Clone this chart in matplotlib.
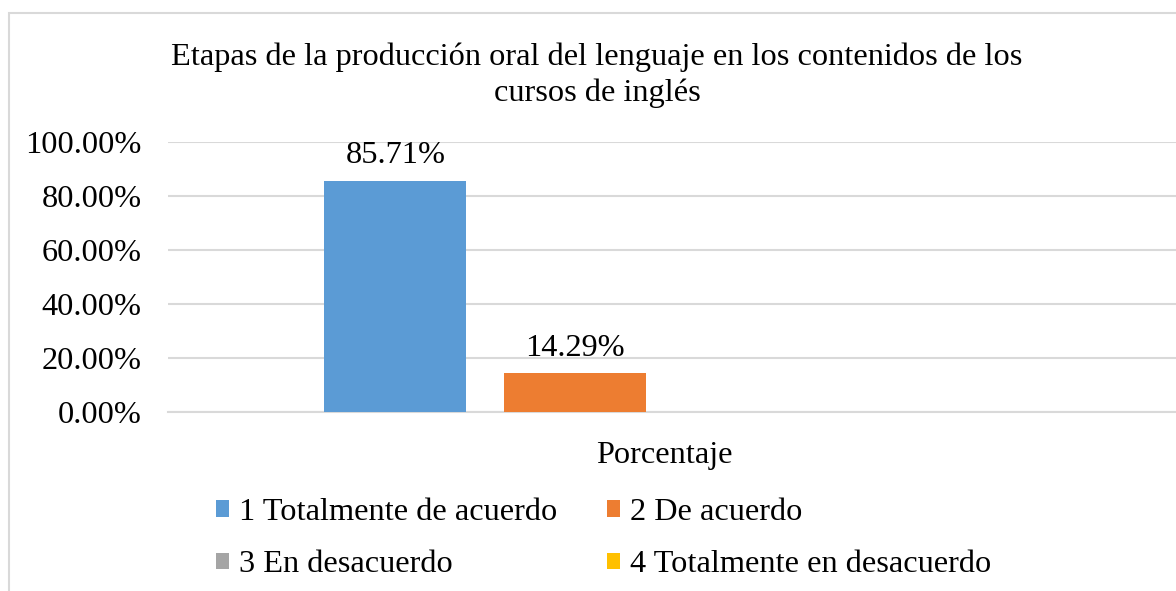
import matplotlib
matplotlib.use("Agg")
import matplotlib.pyplot as plt
from matplotlib.patches import Rectangle
from matplotlib.ticker import FuncFormatter

categories = ["Porcentaje"]
series_names = ["1 Totalmente de acuerdo", "2 De acuerdo",
                "3 En desacuerdo", "4 Totalmente en desacuerdo"]
series_values = [0.8571, 0.1429, 0.0, 0.0]
series_colors = ["#5B9BD5", "#ED7D31", "#A5A5A5", "#FFC000"]
title = "Etapas de la producción oral del lenguaje en los contenidos de los\ncursos de inglés"
yticks = [0.0, 0.2, 0.4, 0.6, 0.8, 1.0]

plt.rcParams["font.family"] = ["Liberation Serif", "DejaVu Serif"]
FS = 23.3
W, H = 1176, 591
fig = plt.figure(figsize=(W / 100, H / 100), dpi=100)

# chart-area border (only top and left visible in the crop)
fig.add_artist(Rectangle((9 / W, -0.2), 1.2, 1.2 - 13 / H,
                         transform=fig.transFigure, fill=False,
                         edgecolor="#d9d9d9", linewidth=1.5))

left, right = 168, 1176
bottom, top = 412, 142
ax = fig.add_axes([left / W, (H - bottom) / H, (right - left) / W, (bottom - top) / H])

# category centred at pixel 664, category width 992 px
center_px, cat_w = 664, 992
ax.set_xlim((left - center_px) / cat_w, (right - center_px) / cat_w)
ax.set_ylim(0, 1)

bar_w = 142 / cat_w
step = 179 / cat_w
handles = []
for i, (name, val, col) in enumerate(zip(series_names, series_values, series_colors)):
    x = (i - 1.5) * step
    b = ax.bar(x, val, width=bar_w, color=col, label=name, zorder=3)
    handles.append(b)
    if val > 0:
        ax.annotate(f"{val * 100:.2f}%", (x, val), xytext=(0, 18),
                    textcoords="offset points", ha="center", va="center",
                    fontsize=FS)

ax.set_yticks(yticks)
ax.yaxis.set_major_formatter(FuncFormatter(lambda v, p: f"{v * 100:.2f}%"))
ax.tick_params(axis="y", length=0, labelsize=FS, pad=19)
ax.set_xticks([])
ax.grid(axis="y", color="#d9d9d9", linewidth=1.5, zorder=0)
for s in ["top", "right", "left"]:
    ax.spines[s].set_visible(False)
ax.spines["bottom"].set_color("#d9d9d9")
ax.spines["bottom"].set_linewidth(1.5)

fig.text(center_px / W, (H - 455) / H, categories[0], ha="center", va="center", fontsize=FS)
fig.text(597 / W, (H - 75) / H, title, ha="center", va="center", fontsize=FS,
         linespacing=1.3)

order = [0, 2, 1, 3]
leg = fig.legend([handles[i] for i in order], [series_names[i] for i in order],
                 ncol=2, loc="upper left", bbox_to_anchor=(216 / W, (H - 498) / H),
                 frameon=False, fontsize=FS, handlelength=0.4, handleheight=0.4,
                 handletextpad=0.3, columnspacing=1.55, labelspacing=0.72,
                 borderaxespad=0, borderpad=0)

fig.savefig("out.png", dpi=100, facecolor="white")
